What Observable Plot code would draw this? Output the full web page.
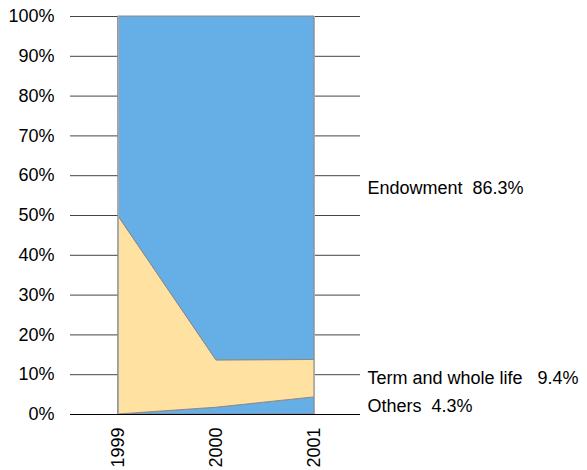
<!DOCTYPE html>
<html>
<head>
<meta charset="utf-8">
<script src="https://cdn.jsdelivr.net/npm/d3@7"></script>
<script src="https://cdn.jsdelivr.net/npm/@observablehq/plot@0.6"></script>
<style>
  html, body { margin: 0; padding: 0; background: #fff; }
  svg text { white-space: pre; }
</style>
</head>
<body>
<div id="chart"></div>
<script>
const years = [1999, 2000, 2001];
const series = ["Others", "Term and whole life", "Endowment"];
const others = [0, 1.7, 4.3];
const term = [49.8, 11.9, 9.4];
const endowment = [50.2, 86.4, 86.3];
const labels = ["Others  4.3%", "Term and whole life   9.4%", "Endowment  86.3%"];
const yTicks = [0, 10, 20, 30, 40, 50, 60, 70, 80, 90, 100];
const colors = ["#66aee6", "#ffe2a2", "#66aee6"];

const values = [others, term, endowment];
const data = [];
series.forEach((s, i) => years.forEach((yr, j) => data.push({year: yr, series: s, value: values[i][j]})));

// label positions: middle of each band at the last year
const last = years.length - 1;
const labelData = [];
let base = 0;
series.forEach((s, i) => {
  const v = values[i][last];
  labelData.push({year: years[last], mid: base + v / 2, text: labels[i]});
  base += v;
});

const chart = Plot.plot({
  width: 587,
  height: 470,
  marginLeft: 70,
  marginRight: 227,
  marginTop: 16,
  marginBottom: 56,
  style: {fontFamily: "'Liberation Sans', Arial, sans-serif", fontSize: "18px", color: "#000", background: "#fff"},
  x: {type: "linear", domain: [1999 - 0.49, 2001 + 0.47]},
  y: {domain: [0, 100]},
  color: {domain: series, range: colors},
  marks: [
    Plot.ruleY(yTicks, {stroke: "#444", strokeWidth: 1}),
    Plot.areaY(data, {x: "year", y: "value", fill: "series", order: series, stroke: "#8a8a8a", strokeWidth: 1}),
    Plot.ruleX([years[0], years[last]], {y1: 0, y2: 100, stroke: "#aaa", strokeWidth: 1}),
    Plot.ruleY([0], {stroke: "#000", strokeWidth: 1}),
    Plot.axisY({ticks: yTicks, tickFormat: d => d + "%", tickSize: 0, tickPadding: 16, fontSize: 18, label: null}),
    Plot.axisX({ticks: years, tickFormat: d => String(d), tickSize: 0, tickPadding: 13, tickRotate: -90, fontSize: 18, label: null}),
    Plot.text(labelData, {x: "year", y: "mid", text: "text", dx: 53, textAnchor: "start", fontSize: 18, fill: "#000"})
  ]
});
document.getElementById("chart").appendChild(chart);
</script>
</body>
</html>
